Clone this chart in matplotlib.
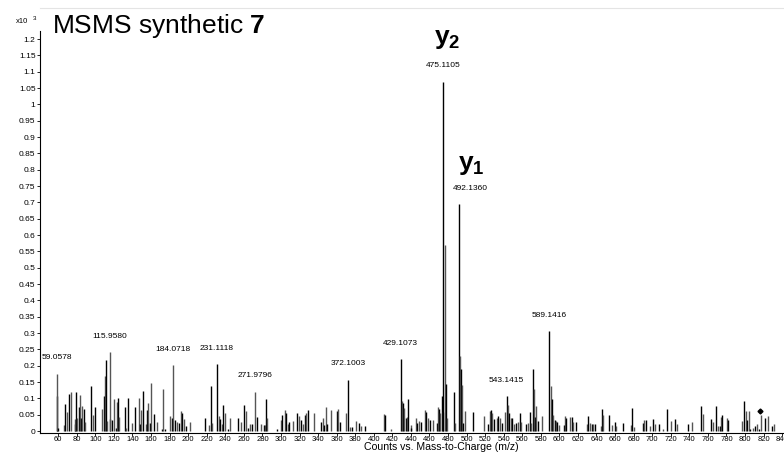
import numpy as np
import matplotlib
matplotlib.use("Agg")
import matplotlib.pyplot as plt

plt.rcParams['font.family'] = ['Liberation Sans', 'DejaVu Sans']
plt.rcParams['mathtext.fontset'] = 'custom'
plt.rcParams['mathtext.rm'] = 'Liberation Sans'
plt.rcParams['mathtext.bf'] = 'Liberation Sans:bold'

# m/z of every centroid bar, intensity in counts x10^3
mz = [58.2, 59.06, 59.6, 66.0, 67.8, 69.6, 71.7, 73.5, 77.8, 78.4, 78.9, 80.6, 82.0, 83.4, 84.5,
      85.6, 87.4, 88.8, 95.5, 97.7, 99.4, 107.2, 109.0, 110.4, 111.5, 112.9, 115.3, 115.958,
      118.3, 120.4, 121.8, 123.2, 124.3, 125.7, 132.1, 133.5, 135.0, 139.9, 142.4, 147.4, 148.5,
      149.2, 151.7, 154.5, 155.6, 156.6, 158.8, 160.5, 162.7, 166.6, 172.0, 173.3, 174.7, 180.4,
      183.0, 184.0718, 185.5, 188.2, 190.0, 192.5, 193.9, 195.7, 197.8, 202.5,
      217.9, 222.9, 224.3, 226.1, 231.1118, 232.9, 234.6, 236.4, 237.5, 239.3, 243.3, 244.7,
      253.7, 257.2, 260.5, 262.6, 264.0, 266.5, 268.3, 271.9796, 274.4, 278.7, 281.9, 283.0,
      283.7, 284.8, 296.2, 299.8, 301.6, 304.1, 305.9, 307.3, 308.4, 313.0, 317.4, 319.1, 322.0,
      323.8, 325.6, 327.0, 328.8, 335.2, 343.1, 344.9, 346.6, 348.1, 349.9, 353.5, 359.9, 361.3,
      363.1, 369.6, 372.1003, 374.6, 376.7, 381.4, 384.6, 386.4, 391.0,
      411.1, 412.6, 418.7, 429.1073, 430.5, 431.6, 433.0, 434.5, 435.9, 437.3, 439.9, 440.6,
      446.0, 447.1, 448.9, 451.1, 455.4, 456.8, 458.2, 460.8, 463.6, 467.9, 469.4, 470.8, 471.9,
      473.0, 474.1, 475.1105, 476.5, 477.6, 478.6, 486.6, 488.0, 492.1360, 493.0, 494.1, 495.3,
      496.6, 498.0, 507.3, 518.4, 522.7, 524.8, 526.3, 527.3, 529.8, 532.4, 534.2, 535.9, 537.8,
      541.3, 543.1415, 544.2, 545.7, 547.4, 549.2, 551.4, 552.8, 555.0, 557.1, 558.9, 564.3,
      565.8, 567.9, 569.4, 571.2, 572.2, 573.3, 575.1, 576.9, 580.9,
      589.1416, 590.6, 591.7, 593.5, 595.3, 596.4, 597.8, 599.2, 605.3, 606.4, 607.5, 611.4,
      613.2, 615.0, 617.9, 630.1, 631.1, 632.9, 634.7, 636.5, 638.0, 644.4, 645.8, 646.9, 653.0,
      656.9, 659.8, 660.9, 669.1, 676.7, 678.8, 680.2, 690.3, 691.7, 693.1, 697.4, 701.0, 702.8,
      707.1, 711.8, 716.1, 720.0, 724.3, 726.5, 738.7, 743.3, 753.0, 754.8, 763.4, 765.2, 768.8,
      770.9, 772.6, 773.8, 775.2, 780.6, 782.0, 797.1, 799.3, 800.7, 802.2, 804.0, 805.4, 808.3,
      811.2, 812.6, 815.5, 817.3, 821.2, 825.2, 828.8, 831.7]
counts = [0.106, 0.175, 0.010, 0.017, 0.082, 0.057, 0.112, 0.118, 0.020, 0.037, 0.120, 0.040, 0.073,
          0.109, 0.039, 0.078, 0.066, 0.028, 0.139, 0.048, 0.074, 0.068, 0.106, 0.167, 0.216, 0.030,
          0.037, 0.241, 0.033, 0.099, 0.009, 0.089, 0.102, 0.042, 0.074, 0.010, 0.102, 0.026, 0.072,
          0.100, 0.020, 0.064, 0.122, 0.020, 0.064, 0.085, 0.024, 0.148, 0.051, 0.028, 0.007, 0.130,
          0.007, 0.045, 0.041, 0.202, 0.033, 0.027, 0.025, 0.060, 0.056, 0.038, 0.015, 0.028,
          0.041, 0.018, 0.139, 0.024, 0.204, 0.045, 0.038, 0.022, 0.081, 0.054, 0.007, 0.039,
          0.041, 0.028, 0.079, 0.060, 0.010, 0.020, 0.020, 0.120, 0.042, 0.020, 0.019, 0.019,
          0.097, 0.041, 0.007, 0.033, 0.050, 0.063, 0.055, 0.022, 0.028, 0.030, 0.055, 0.047, 0.035,
          0.022, 0.050, 0.056, 0.063, 0.056, 0.028, 0.041, 0.019, 0.072, 0.020, 0.065, 0.060, 0.066,
          0.028, 0.055, 0.157, 0.012, 0.012, 0.030, 0.025, 0.016, 0.015,
          0.053, 0.048, 0.005, 0.219, 0.092, 0.086, 0.069, 0.040, 0.043, 0.097, 0.017, 0.010,
          0.041, 0.024, 0.030, 0.027, 0.063, 0.057, 0.039, 0.034, 0.033, 0.024, 0.073, 0.067, 0.054,
          0.108, 0.059, 1.070, 0.569, 0.145, 0.040, 0.120, 0.024, 0.695, 0.230, 0.190, 0.140,
          0.024, 0.060, 0.057, 0.045, 0.022, 0.060, 0.063, 0.055, 0.037, 0.041, 0.045, 0.041, 0.024,
          0.058, 0.106, 0.079, 0.055, 0.040, 0.040, 0.020, 0.024, 0.028, 0.055, 0.028, 0.020,
          0.026, 0.059, 0.026, 0.190, 0.130, 0.043, 0.077, 0.030, 0.045,
          0.305, 0.137, 0.099, 0.050, 0.035, 0.031, 0.027, 0.017, 0.017, 0.045, 0.041, 0.043,
          0.043, 0.027, 0.028, 0.022, 0.046, 0.024, 0.022, 0.020, 0.020, 0.015, 0.068, 0.048, 0.048,
          0.017, 0.029, 0.015, 0.024, 0.017, 0.070, 0.012, 0.024, 0.033, 0.035, 0.015, 0.037, 0.020,
          0.020, 0.007, 0.067, 0.030, 0.036, 0.020, 0.020, 0.029, 0.076, 0.052, 0.036, 0.028, 0.076,
          0.014, 0.014, 0.043, 0.049, 0.039, 0.033, 0.032, 0.093, 0.061, 0.034, 0.060, 0.006, 0.010,
          0.016, 0.020, 0.007, 0.048, 0.039, 0.046, 0.015, 0.020]

# labelled peaks
label_mz = [59.0578, 115.9580, 184.0718, 231.1118, 271.9796, 372.1003, 429.1073,
            475.1105, 492.1360, 543.1415, 589.1416]
label_h = [0.175, 0.241, 0.202, 0.204, 0.120, 0.157, 0.219, 1.070, 0.695, 0.106, 0.305]
ions = [(475.1105, 1.070, 'y', '2'), (492.1360, 0.695, 'y', '1')]
precursor = (816.0, 0.062)

fig = plt.figure(figsize=(7.84, 4.55), dpi=100)
ax = fig.add_axes([0.0506, 0.0484, 0.9588, 0.934])

cols = ['#000000' if i % 2 == 0 else '#555555' for i in range(len(mz))]
ax.vlines(mz, 0, counts, colors=cols, linewidth=1.0)

for m, h in zip(label_mz, label_h):
    dx = 8.1 if m == 492.1360 else 0
    ax.annotate(f'{m:.4f}', (m, h), xytext=(dx, 11.5), textcoords='offset points',
                ha='center', va='center', fontsize=6)

ax.annotate(r'$\mathbf{y}_\mathbf{2}$', (ions[0][0], ions[0][1]), xytext=(2.9, 27),
            textcoords='offset points', ha='center', va='baseline', fontsize=19)
ax.annotate(r'$\mathbf{y}_\mathbf{1}$', (ions[1][0], ions[1][1]), xytext=(9, 24.5),
            textcoords='offset points', ha='center', va='baseline', fontsize=19)

ax.plot([precursor[0]], [precursor[1]], marker='D', ms=2.5, color='black', ls='none')

ax.set_xlim(40, 850)
ax.set_ylim(-0.006, 1.295)
ax.set_xticks(np.arange(60, 841, 20))
yt = np.arange(0, 1.2001, 0.05)
ax.set_yticks(yt)
ax.set_yticklabels([f'{v:g}' for v in np.round(yt, 2)])
ax.tick_params(direction='out', length=2, width=0.6, pad=1)
ax.tick_params(axis='x', labelsize=5.5, pad=0.5)
ax.tick_params(axis='y', labelsize=6)

for s in ['left', 'bottom']:
    ax.spines[s].set_linewidth(0.8)
ax.spines['left'].set_bounds(-0.006, 1.225)
ax.spines['right'].set_visible(False)
ax.spines['top'].set_color('#e4e4e4')

ax.set_xlabel('Counts vs. Mass-to-Charge (m/z)', fontsize=7.6, va='center')
ax.xaxis.set_label_coords(0.534, -0.034)

fig.text(52 / 784, 1 - 32.7 / 455, r'MSMS synthetic $\mathbf{7}$', fontsize=19, va='baseline')
fig.text(15.7 / 784, 1 - 23.3 / 455, 'x10', fontsize=5.5, va='baseline')
fig.text(32.3 / 784, 1 - 20.5 / 455, '3', fontsize=4.5, va='baseline')

fig.savefig('out.png', dpi=100)
